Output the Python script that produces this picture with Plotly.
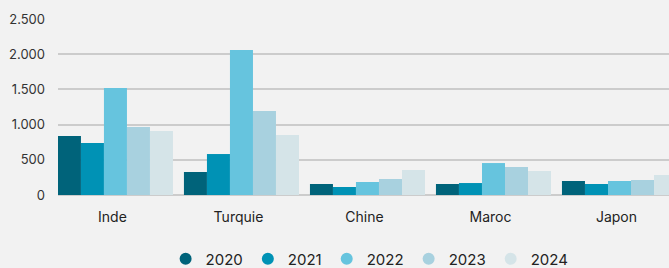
import plotly.graph_objects as go

categories = ["Inde", "Turquie", "Chine", "Maroc", "Japon"]
years = ["2020", "2021", "2022", "2023", "2024"]
v2020 = [838, 327, 156, 156, 199]
v2021 = [739, 582, 114, 170, 156]
v2022 = [1520, 2060, 185, 454, 199]
v2023 = [966, 1193, 227, 398, 213]
v2024 = [909, 852, 355, 341, 284]
colors = ["#00637a", "#0092b5", "#66c4de", "#a8d1df", "#d5e4e8"]
tickvals = [0, 500, 1000, 1500, 2000, 2500]

series = [v2020, v2021, v2022, v2023, v2024]

fig = go.Figure()
for name, vals, col in zip(years, series, colors):
    fig.add_trace(go.Bar(x=categories, y=vals, name=name, marker=dict(color=col, line=dict(width=0)),
                         showlegend=False, legendgroup=name))
for name, col in zip(years, colors):
    fig.add_trace(go.Scatter(x=[None], y=[None], mode="markers", name=name, legendgroup=name,
                             marker=dict(color=col, size=12, symbol="circle")))

fig.update_layout(
    width=669, height=268,
    margin=dict(l=58, r=0, t=19, b=73, autoexpand=False),
    paper_bgcolor="#f2f2f2", plot_bgcolor="#f2f2f2",
    font=dict(family="Inter, Roboto, sans-serif", color="#333333"),
    separators=",.",
    barmode="group", bargap=0.087, bargroupgap=0,
    showlegend=True,
    legend=dict(orientation="h", x=0.51, xanchor="center", y=-0.364, yanchor="middle",
                font=dict(size=15, color="#222222"), bgcolor="rgba(0,0,0,0)"),
    xaxis=dict(range=[-0.456, 4.393], showgrid=False, showline=False, ticks="",
               tickfont=dict(size=14, color="#222222"), fixedrange=True, ticklabelstandoff=12,
               ticklabelshift=-3, automargin=False),
    yaxis=dict(range=[0, 2500], tickvals=tickvals, tickformat=",d", showgrid=True,
               gridcolor="#cccccc", gridwidth=2, zeroline=True, zerolinecolor="#cccccc",
               zerolinewidth=2, tickfont=dict(size=13, color="#333333"), ticklabelstandoff=12,
               automargin=False),
)

fig.write_html("out.html", config={"displayModeBar": False},
               post_script="document.body.style.margin='0';document.body.style.background='#f2f2f2';document.body.style.overflow='hidden';")
